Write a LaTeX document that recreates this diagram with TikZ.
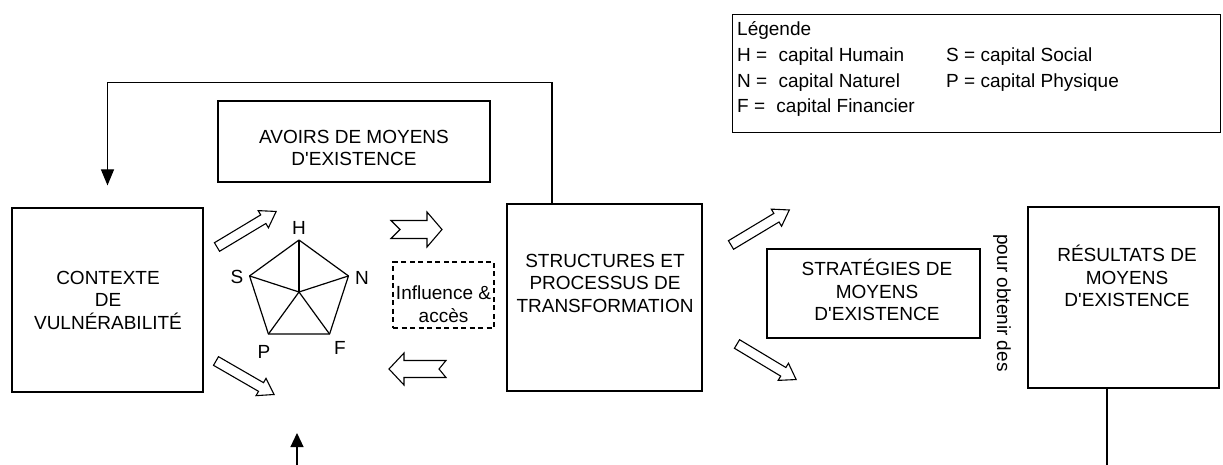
\documentclass[tikz,border=0pt]{standalone}
\usepackage{fontspec}
\setmainfont{Liberation Sans}[Ligatures=TeXOff]
\usetikzlibrary{arrows.meta,positioning}

\tikzset{
  boite/.style={draw,line width=1.2pt,inner sep=0pt},
  texte/.style={align=center,inner sep=0pt,font=\fontsize{19}{22.5}\selectfont},
  sommet/.style={inner sep=0pt,font=\fontsize{19}{22}\selectfont},
  retour/.style={line width=1.2pt,-{Triangle[length=16pt,width=13pt]}},
  % grosse fleche creuse : longueur / demi-corps / demi-pointe / encoche
  pics/grossefleche/.style args={#1/#2/#3/#4}{code={
    \draw[line width=1.1pt,fill=white] (0,#2) -- (#1-15,#2) -- (#1-15,#3) -- (#1,0)
      -- (#1-15,-#3) -- (#1-15,-#2) -- (0,-#2) -- (#4,0) -- cycle;
  }},
}

\begin{document}
\begin{tikzpicture}[x=1pt,y=-1pt]
  \useasboundingbox (0,0) rectangle (1223,465);

  % les cinq boites
  \node[boite,minimum width=191pt,minimum height=184pt] (ctx) at (107.5,300) {};
  \node[texte] (ctx-t) at (108,300) {CONTEXTE\\DE\\VULNÉRABILITÉ};

  \node[boite,minimum width=272pt,minimum height=81pt] (avoirs) at (354,141.5) {};
  \node[texte] (avoirs-t) at (354,148) {AVOIRS DE MOYENS\\D'EXISTENCE};

  \node[boite,minimum width=195pt,minimum height=187pt] (struct) at (604.5,297.5) {};
  \node[texte] (struct-t) at (605,283) {STRUCTURES ET\\PROCESSUS DE\\TRANSFORMATION};

  \node[boite,minimum width=213pt,minimum height=89pt] (strat) at (873.5,293.5) {};
  \node[texte] (strat-t) at (877,290) {STRATÉGIES DE\\MOYENS\\D'EXISTENCE};

  \node[boite,minimum width=191pt,minimum height=181pt] (res) at (1123.5,297.5) {};
  \node[texte] (res-t) at (1127,276) {RÉSULTATS DE\\MOYENS\\D'EXISTENCE};

  \node[boite,dashed,dash pattern=on 5pt off 3.5pt,minimum width=101pt,minimum height=66pt] (infl) at (443.5,295) {};
  \node[texte] (infl-t) at (443.5,304) {Influence \&\\accès};

  \node[texte,rotate=-90] (obtenir) at (1002,303) {pour obtenir des};

  % legende
  \node[boite,anchor=north west,minimum width=488pt,minimum height=118pt] (leg) at (732,14) {};
  \node[anchor=north west,inner sep=0pt,align=left,font=\fontsize{19}{25.7}\selectfont] (leg-t) at (737,21.5)
    {Légende\\
     \makebox[209pt][l]{H = \hspace{6pt}capital Humain}S = capital Social\\
     \makebox[209pt][l]{N = \hspace{6pt}capital Naturel}P = capital Physique\\
     F = \hspace{6pt}capital Financier};

  % pentagone des capitaux (y vers le bas, donc angles negatifs)
  \coordinate (O) at (299,292);
  \foreach \nom/\angle in {H/-90,S/-162,P/-234,F/-306,N/-18}
    \path (O) ++(\angle:52) coordinate (\nom);
  \draw[line width=1.2pt,line join=round] (H) -- (N) -- (F) -- (P) -- (S) -- cycle;
  \foreach \nom in {H,N,F,P,S}
    \draw[line width=1.2pt] (O) -- (\nom);
  \foreach \nom/\x/\y in {H/299/228,S/237/277,N/362/278,P/264/352,F/340/348}
    \node[sommet] (l\nom) at (\x,\y) {\nom};

  % grosses fleches
  \pic[rotate=31] at (217,247) {grossefleche=69/5/10/0};
  \pic[rotate=-30] at (216,361) {grossefleche=67/5/10/0};
  \pic at (391,229.5) {grossefleche=51/9/17.5/9};
  \pic[rotate=180] at (446,369) {grossefleche=57/8.5/16/7};
  \pic[rotate=31] at (731,245) {grossefleche=68/5/10/0};
  \pic[rotate=-31] at (737,344) {grossefleche=69/5/10/0};

  % retour vers le contexte
  \draw[retour] ([xshift=-52.5pt]struct.north) -- ++(0,-121) -| ([yshift=22pt]ctx.north);

  % traits vers le bas
  \coordinate (bas) at (297,470);
  \coordinate (pointe) at (297,433);
  \draw[line width=1.2pt,-{Triangle[length=14pt,width=13pt]}] (bas) -- (pointe);
  \coordinate (res-bas) at (1107,470);
  \draw[line width=1.2pt] ([xshift=-16.5pt]res.south) -- (res-bas);
\end{tikzpicture}
\end{document}
